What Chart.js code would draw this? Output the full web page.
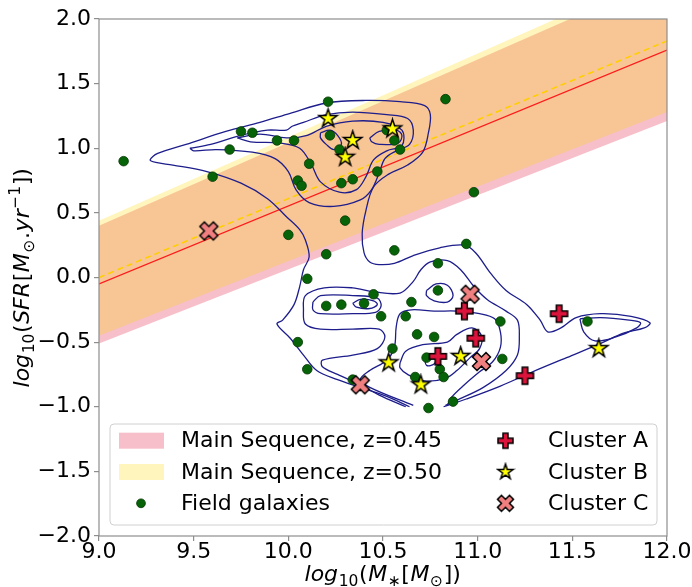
<!DOCTYPE html>
<html>
<head>
<meta charset="utf-8">
<script src="https://cdn.jsdelivr.net/npm/chart.js@4.4.1/dist/chart.umd.min.js"></script>
<style>
  html, body { margin: 0; padding: 0; background: #fff; }
</style>
</head>
<body>
<canvas id="sfrChart" width="692" height="587"></canvas>
<script>
// Axis ticks
const xTickValues = [9.0, 9.5, 10.0, 10.5, 11.0, 11.5, 12.0];
const yTickValues = [-2.0, -1.5, -1.0, -0.5, 0.0, 0.5, 1.0, 1.5, 2.0];

// Axis titles, split in math pieces: [text, kind] (i = italic, n = upright, sub, sup)
const xTitleParts = [['log', 'i'], ['10', 'sub'], ['(', 'n'], ['M', 'i'], ['\u2217', 'sub'], ['[', 'n'], ['M', 'i'],
  ['\u2299', 'sub'], ['])', 'n']];
const yTitleParts = [['log', 'i'], ['10', 'sub'], ['(', 'n'], ['SFR', 'i'], ['[', 'n'], ['M', 'i'], ['\u2299', 'sub'],
  ['.', 'n'], ['yr', 'i'], ['\u22121', 'sup'], ['])', 'n']];

// Main sequence relations (values at both ends of the mass axis)
const msMass = [9.0, 12.0];
const ms045Line = [-0.05, 1.76];
const ms045Low = [-0.51, 1.21];
const ms045High = [0.40, 2.33];
const ms050Line = [0.0, 1.83];
const ms050Low = [-0.45, 1.28];
const ms050High = [0.44, 2.38];

// Field galaxies
const fieldMass = [9.13, 9.60, 9.75, 9.81, 9.69, 9.94, 10.03, 10.21, 10.22, 10.11, 10.05, 10.07, 10.27, 10.28,
  10.34, 10.47, 10.83, 10.52, 10.56, 10.59, 10.30, 10.00, 10.20, 10.56, 10.79, 10.10, 10.98, 10.94,
  10.79, 10.45, 10.20, 10.28, 10.40, 10.65, 10.49, 10.62, 11.12, 11.58, 10.05, 10.68, 10.77, 10.55,
  10.10, 10.73, 10.80, 10.82, 10.67, 11.13, 10.34, 10.74, 10.87];
const fieldSfr = [0.90, 0.78, 1.13, 1.12, 0.99, 1.06, 1.06, 1.36, 1.10, 0.88, 0.75, 0.71, 0.99, 0.73,
  0.76, 0.82, 1.38, 1.14, 1.06, 0.99, 0.44, 0.33, 0.18, 0.21, 0.11, -0.01, 0.66, 0.26,
  -0.10, -0.13, -0.22, -0.21, -0.20, -0.19, -0.30, -0.30, -0.34, -0.34, -0.50, -0.44, -0.46, -0.55,
  -0.71, -0.62, -0.71, -0.77, -0.77, -0.63, -0.79, -1.01, -0.96];

// Cluster members
const clusterAMass = [10.93, 10.99, 10.79, 11.25, 11.43];
const clusterASfr = [-0.26, -0.47, -0.61, -0.76, -0.28];
const clusterBMass = [10.21, 10.55, 10.34, 10.30, 10.53, 10.70, 10.91, 11.64];
const clusterBSfr = [1.23, 1.15, 1.06, 0.93, -0.66, -0.83, -0.61, -0.55];
const clusterCMass = [9.58, 10.96, 11.02, 10.38];
const clusterCSfr = [0.36, -0.13, -0.65, -0.83];

// Density contours of the field sample, [mass, sfr] along each curve
const contourOuter = [[10.64, -1.00], [10.52, -0.92], [10.38, -0.85], [10.26, -0.79], [10.15, -0.72], [10.08, -0.60],
  [10.01, -0.47], [9.94, -0.36], [9.97, -0.33], [10.03, -0.21], [10.06, -0.07], [10.08, 0.06], [10.11, 0.16],
  [10.09, 0.29], [10.06, 0.37], [9.99, 0.47], [9.89, 0.61], [9.75, 0.73], [9.57, 0.82], [9.39, 0.87], [9.30, 0.89],
  [9.27, 0.91], [9.31, 0.96], [9.46, 1.03], [9.67, 1.13], [9.85, 1.20], [10.01, 1.27], [10.20, 1.35], [10.41, 1.37],
  [10.59, 1.36], [10.72, 1.33], [10.75, 1.26], [10.74, 1.12], [10.71, 0.97], [10.63, 0.87], [10.53, 0.80],
  [10.45, 0.70], [10.41, 0.52], [10.39, 0.34], [10.40, 0.19], [10.43, 0.12], [10.48, 0.10], [10.56, 0.11],
  [10.66, 0.17], [10.80, 0.23], [10.93, 0.25], [10.99, 0.19], [11.07, 0.03], [11.15, -0.10], [11.26, -0.21],
  [11.33, -0.33], [11.37, -0.42], [11.44, -0.39], [11.52, -0.31], [11.65, -0.28], [11.81, -0.30], [11.91, -0.35],
  [11.88, -0.39], [11.77, -0.43], [11.65, -0.51], [11.47, -0.62], [11.29, -0.73], [11.12, -0.84], [10.94, -0.94],
  [10.82, -1.00]];
const contourUpper2 = [[9.48, 1.00], [9.59, 1.03], [9.75, 1.10], [9.89, 1.14], [9.99, 1.14], [10.02, 1.17], [10.08, 1.20],
  [10.20, 1.26], [10.34, 1.28], [10.52, 1.26], [10.63, 1.23], [10.66, 1.14], [10.64, 1.03], [10.57, 0.98], [10.51, 0.92],
  [10.48, 0.81], [10.44, 0.68], [10.38, 0.60], [10.24, 0.55], [10.11, 0.58], [10.04, 0.68], [10.00, 0.82], [9.93, 0.92],
  [9.81, 0.97], [9.62, 0.99], [9.50, 0.98], [9.48, 1.00]];
const contourUpper3 = [[9.73, 1.08], [9.85, 1.11], [9.99, 1.08], [10.10, 1.10], [10.20, 1.17], [10.34, 1.21], [10.50, 1.20],
  [10.60, 1.14], [10.60, 1.02], [10.52, 0.98], [10.45, 0.91], [10.41, 0.78], [10.36, 0.68], [10.27, 0.66], [10.17, 0.74],
  [10.12, 0.88], [10.06, 1.00], [9.96, 1.04], [9.80, 1.05], [9.73, 1.08]];
const contourUpper4a = [[10.17, 1.12], [10.22, 1.14], [10.26, 1.10], [10.28, 1.03], [10.24, 0.99], [10.20, 1.03],
  [10.17, 1.08], [10.17, 1.12]];
const contourUpper4b = [[10.43, 1.08], [10.48, 1.13], [10.57, 1.14], [10.60, 1.10], [10.58, 1.04], [10.48, 1.03],
  [10.44, 1.05], [10.43, 1.08]];
const contourLower2 = [[10.62, -1.00], [10.48, -0.91], [10.38, -0.83], [10.26, -0.75], [10.18, -0.69], [10.18, -0.64],
  [10.34, -0.60], [10.47, -0.55], [10.51, -0.46], [10.48, -0.40], [10.34, -0.40], [10.17, -0.40], [10.09, -0.36],
  [10.08, -0.25], [10.09, -0.14], [10.19, -0.08], [10.34, -0.08], [10.45, -0.11], [10.59, -0.12], [10.66, -0.03],
  [10.70, 0.06], [10.75, 0.12], [10.84, 0.13], [10.91, 0.06], [10.98, -0.07], [11.05, -0.17], [11.15, -0.26],
  [11.21, -0.33], [11.22, -0.46], [11.21, -0.60], [11.15, -0.72], [11.03, -0.85], [10.89, -0.95], [10.83, -0.99]];
const contourLowerRight = [[11.54, -0.32], [11.56, -0.42], [11.62, -0.49], [11.73, -0.46], [11.84, -0.39],
  [11.86, -0.35], [11.80, -0.33], [11.65, -0.31], [11.54, -0.32]];
const contourLower3a = [[10.13, -0.19], [10.17, -0.14], [10.34, -0.14], [10.47, -0.16], [10.49, -0.22], [10.46, -0.27],
  [10.34, -0.28], [10.17, -0.28], [10.13, -0.25], [10.13, -0.19]];
const contourLower4a = [[10.34, -0.20], [10.38, -0.17], [10.45, -0.18], [10.47, -0.21], [10.43, -0.24], [10.36, -0.23],
  [10.34, -0.20]];
const contourLower3 = [[10.66, -0.99], [10.43, -0.85], [10.38, -0.79], [10.43, -0.72], [10.52, -0.64], [10.56, -0.54],
  [10.57, -0.38], [10.59, -0.28], [10.65, -0.25], [10.77, -0.26], [10.89, -0.26], [11.01, -0.28], [11.09, -0.32],
  [11.12, -0.42], [11.12, -0.54], [11.08, -0.65], [11.01, -0.73], [10.93, -0.83], [10.86, -0.93], [10.84, -0.99]];
const contourLower4 = [[10.59, -0.66], [10.62, -0.57], [10.71, -0.52], [10.84, -0.50], [10.89, -0.44], [10.97, -0.39],
  [11.02, -0.45], [11.01, -0.55], [10.96, -0.62], [10.89, -0.72], [10.83, -0.78], [10.72, -0.80], [10.63, -0.75],
  [10.59, -0.70], [10.59, -0.66]];
const contourLower5 = [[10.72, -0.63], [10.75, -0.59], [10.78, -0.62], [10.77, -0.67], [10.73, -0.68], [10.72, -0.63]];
const contourLoopMid = [[10.73, -0.10], [10.78, -0.05], [10.84, -0.06], [10.87, -0.14], [10.84, -0.19], [10.77, -0.18],
  [10.73, -0.14], [10.73, -0.10]];

const contourList = [contourOuter, contourUpper2, contourUpper3, contourUpper4a, contourUpper4b, contourLower2,
  contourLowerRight, contourLower3a, contourLower4a, contourLower3, contourLower4, contourLower5, contourLoopMid];

(function () {
  const pinkFill = 'rgba(220, 20, 60, 0.27)';
  const yellowFill = 'rgba(255, 215, 0, 0.26)';
  const navy = '#1d1d8c';
  const spine = '#8e8e8e';
  const family = "'DejaVu Sans', sans-serif";

  Chart.defaults.font.family = family;
  Chart.defaults.color = '#000';

  const pts = (xs, ys) => xs.map((x, i) => ({ x, y: ys[i] }));
  const pairs = (arr) => arr.map(([x, y]) => ({ x, y }));
  const fmt = (v) => (v < 0 ? '\u2212' : '') + Math.abs(v).toFixed(1);

  // filled marker images (matplotlib P, *, X with black edges)
  function plusPath(g, r) {
    const a = r / 3;
    g.beginPath();
    g.moveTo(-a, -r); g.lineTo(a, -r); g.lineTo(a, -a); g.lineTo(r, -a); g.lineTo(r, a); g.lineTo(a, a);
    g.lineTo(a, r); g.lineTo(-a, r); g.lineTo(-a, a); g.lineTo(-r, a); g.lineTo(-r, -a); g.lineTo(-a, -a);
    g.closePath();
  }
  function starPath(g, r) {
    const ri = r * 0.382;
    g.beginPath();
    for (let i = 0; i < 10; i++) {
      const rr = i % 2 ? ri : r;
      const a = -Math.PI / 2 + i * Math.PI / 5;
      g.lineTo(rr * Math.cos(a), rr * Math.sin(a));
    }
    g.closePath();
  }
  function marker(kind, r, fill) {
    const size = Math.ceil(2 * r + 4);
    const c = document.createElement('canvas');
    c.width = size; c.height = size;
    const g = c.getContext('2d');
    g.translate(size / 2, size / 2);
    if (kind === 'x') g.rotate(Math.PI / 4);
    if (kind === 'star') starPath(g, r); else plusPath(g, r);
    g.fillStyle = fill;
    g.fill();
    g.lineWidth = 1.5;
    g.lineJoin = 'miter';
    g.strokeStyle = '#000';
    g.stroke();
    return c;
  }
  const plusImg = marker('plus', 8.5, '#dc143c');
  const starImg = marker('star', 9.5, '#ffff00');
  const xImg = marker('x', 9.5, '#f08080');
  const plusLeg = marker('plus', 7.5, '#dc143c');
  const starLeg = marker('star', 8, '#ffff00');
  const xLeg = marker('x', 8.5, '#f08080');

  const clear = 'rgba(0,0,0,0)';
  const datasets = [
    { label: 'ms045Low', data: pts(msMass, ms045Low), borderColor: clear, borderWidth: 0, pointRadius: 0, fill: false, order: 20 },
    { label: 'Main Sequence, z=0.45', data: pts(msMass, ms045High), borderColor: clear, borderWidth: 0, pointRadius: 0,
      fill: '-1', backgroundColor: pinkFill, order: 19 },
    { label: 'ms050Low', data: pts(msMass, ms050Low), borderColor: clear, borderWidth: 0, pointRadius: 0, fill: false, order: 18 },
    { label: 'Main Sequence, z=0.50', data: pts(msMass, ms050High), borderColor: clear, borderWidth: 0, pointRadius: 0,
      fill: '-1', backgroundColor: yellowFill, order: 17 },
    { label: 'MS z=0.45', data: pts(msMass, ms045Line), borderColor: '#ff1a1a', borderWidth: 1.3, pointRadius: 0, fill: false, order: 10 },
    { label: 'MS z=0.50', data: pts(msMass, ms050Line), borderColor: '#ffcf00', borderWidth: 1.6, borderDash: [6, 4],
      pointRadius: 0, fill: false, order: 9 },
  ];
  contourList.forEach((c, i) => {
    datasets.push({ label: 'contour ' + i, data: pairs(c), borderColor: navy, borderWidth: 1.3, pointRadius: 0,
      tension: 0.35, fill: false, order: 5 });
  });
  datasets.push(
    { label: 'Field galaxies', data: pts(fieldMass, fieldSfr), showLine: false, pointRadius: 4.8,
      pointBackgroundColor: '#076307', pointBorderColor: '#053805', pointBorderWidth: 0.8, order: 3 },
    { label: 'Cluster A', data: pts(clusterAMass, clusterASfr), showLine: false, pointStyle: plusImg, pointRadius: 8, order: 2 },
    { label: 'Cluster B', data: pts(clusterBMass, clusterBSfr), showLine: false, pointStyle: starImg, pointRadius: 8, order: 1 },
    { label: 'Cluster C', data: pts(clusterCMass, clusterCSfr), showLine: false, pointStyle: xImg, pointRadius: 8, order: 0 }
  );

  // full rectangular frame like matplotlib spines
  const frameBox = {
    id: 'frameBox',
    afterDatasetsDraw(chart) {
      const { ctx, chartArea: a } = chart;
      ctx.save();
      ctx.strokeStyle = spine;
      ctx.lineWidth = 1.2;
      ctx.strokeRect(a.left, a.top, a.right - a.left, a.bottom - a.top);
      ctx.restore();
    },
  };

  // axis titles with sub/superscripts, mathtext style
  function partFont(kind) {
    if (kind === 'sub' || kind === 'sup') return '15.5px ' + family;
    return (kind === 'i' ? 'italic ' : '') + '22px ' + family;
  }
  function drawMath(ctx, parts, cx, baseline, rotate) {
    ctx.save();
    ctx.translate(cx, baseline);
    if (rotate) ctx.rotate(-Math.PI / 2);
    ctx.textBaseline = 'alphabetic';
    ctx.textAlign = 'left';
    ctx.fillStyle = '#000';
    const gap = 0.6;
    let total = 0;
    parts.forEach(([t, k]) => { ctx.font = partFont(k); total += ctx.measureText(t).width + gap; });
    let x = -total / 2;
    parts.forEach(([t, k]) => {
      ctx.font = partFont(k);
      const dy = k === 'sub' ? 5 : k === 'sup' ? -9 : 0;
      ctx.fillText(t, x, dy);
      x += ctx.measureText(t).width + gap;
    });
    ctx.restore();
  }
  const mathTitles = {
    id: 'mathTitles',
    afterDraw(chart) {
      const { ctx, chartArea: a } = chart;
      drawMath(ctx, xTitleParts, (a.left + a.right) / 2, 581, false);
      ctx.save();
      ctx.translate(29, (a.top + a.bottom) / 2);
      drawMath(ctx, yTitleParts, 0, 0, true);
      ctx.restore();
    },
  };

  // two-column legend inside the axes, lower part
  const boxLegend = {
    id: 'boxLegend',
    afterDraw(chart) {
      const { ctx } = chart;
      const bx = 110, by = 424, bw = 547, bh = 101;
      const rows = [440.7, 472, 503.3];
      ctx.save();
      ctx.beginPath();
      ctx.roundRect(bx, by, bw, bh, 4);
      ctx.fillStyle = 'rgba(255,255,255,0.8)';
      ctx.fill();
      ctx.strokeStyle = '#d0d0d0';
      ctx.lineWidth = 1;
      ctx.stroke();

      ctx.fillStyle = pinkFill;
      ctx.fillRect(119, rows[0] - 8, 45, 16);
      ctx.fillStyle = yellowFill;
      ctx.fillRect(119, rows[1] - 8, 45, 16);
      ctx.beginPath();
      ctx.arc(141, rows[2], 4.4, 0, Math.PI * 2);
      ctx.fillStyle = '#076307';
      ctx.fill();
      ctx.strokeStyle = '#053805';
      ctx.lineWidth = 0.8;
      ctx.stroke();
      [plusLeg, starLeg, xLeg].forEach((img, i) => {
        ctx.drawImage(img, 505.5 - img.width / 2, rows[i] - img.height / 2);
      });

      ctx.fillStyle = '#000';
      ctx.font = '22px ' + family;
      ctx.textBaseline = 'middle';
      ctx.textAlign = 'left';
      const names = [datasets[1].label, datasets[3].label, 'Field galaxies', 'Cluster A', 'Cluster B', 'Cluster C'];
      names.forEach((t, i) => {
        const x = i < 3 ? 181 : 548;
        ctx.fillText(t, x, rows[i % 3] + 1);
      });
      ctx.restore();
    },
  };

  new Chart(document.getElementById('sfrChart'), {
    type: 'line',
    data: { datasets },
    options: {
      responsive: false,
      animation: false,
      events: [],
      layout: { padding: { left: 0, right: 25, top: 19, bottom: 0 } },
      plugins: { legend: { display: false }, tooltip: { enabled: false } },
      scales: {
        x: {
          type: 'linear',
          min: 9.0,
          max: 12.0,
          afterBuildTicks: (s) => { s.ticks = xTickValues.map((v) => ({ value: v })); },
          afterFit: (s) => { s.height = 51; },
          border: { display: false },
          grid: { drawOnChartArea: false, drawTicks: true, tickLength: 5, color: spine, lineWidth: 1.2 },
          ticks: { font: { size: 22 }, color: '#000', padding: -2, maxRotation: 0, callback: (v) => fmt(v) },
        },
        y: {
          type: 'linear',
          min: -2.0,
          max: 2.0,
          afterBuildTicks: (s) => { s.ticks = yTickValues.map((v) => ({ value: v })); },
          afterFit: (s) => { s.width = 99; },
          border: { display: false },
          grid: { drawOnChartArea: false, drawTicks: true, tickLength: 5, color: spine, lineWidth: 1.2 },
          ticks: { font: { size: 22 }, color: '#000', padding: 3, callback: (v) => fmt(v) },
        },
      },
    },
    plugins: [frameBox, mathTitles, boxLegend],
  });
})();
</script>
</body>
</html>
